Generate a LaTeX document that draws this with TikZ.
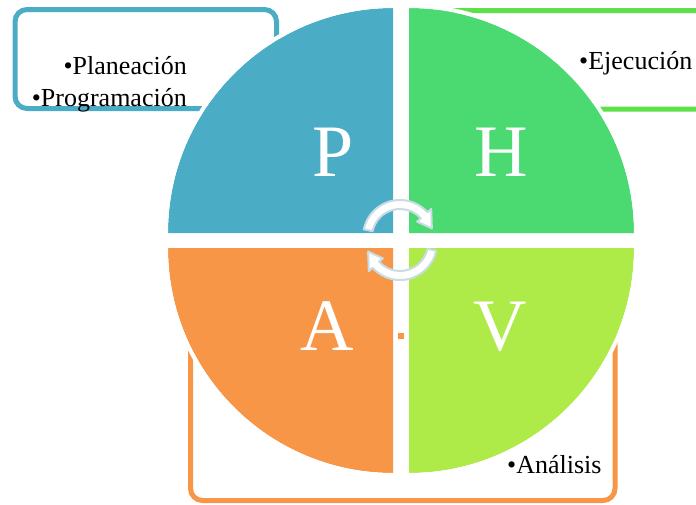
\documentclass[tikz,border=0pt]{standalone}
\usepackage{fontspec}
\setmainfont{Liberation Serif}
\definecolor{qblue}{HTML}{4BACC6}
\definecolor{qgreen}{HTML}{4BD972}
\definecolor{lgreen}{HTML}{5EE04A}
\definecolor{qlime}{HTML}{AEEA48}
\definecolor{qorange}{HTML}{F79646}
\definecolor{arrowline}{HTML}{C9DCE5}
\tikzset{
  listbox/.style={rounded corners=12pt, line width=5pt},
  quadrim/.style={white, line width=4pt},
  bigletter/.style={white, inner sep=0pt, anchor=base, font=\fontsize{74}{80}\selectfont},
  listtext/.style={black, inner sep=0pt, font=\fontsize{26}{30}\selectfont},
  cyclearrow/.style={fill=white, draw=arrowline, line width=2pt, line join=round}
}
\begin{document}
\begin{tikzpicture}[x=1pt,y=1pt]
\useasboundingbox (0,0) rectangle (696,-504);
\clip (0,0) rectangle (696,-504);

% text frames behind the quadrants
\draw[listbox, qblue] (15,-9.5) rectangle (276.5,-108.5);
\draw[listbox, lgreen] (430,-10.5) rectangle (730,-109);
\draw[listbox, qorange] (190.5,-300) rectangle (615,-500.5);

% white separating cross between the quadrants
\fill[white] (393,-5) rectangle (409,-476);
\fill[white] (165,-233) rectangle (637,-248);

% four quarter discs
\coordinate (ctl) at (393,-233);
\coordinate (ctr) at (409,-233);
\coordinate (cbl) at (393,-248);
\coordinate (cbr) at (409,-248);
\fill[qblue] (ctl) -- ++(-225,0) arc[start angle=180, end angle=90, radius=225] -- cycle;
\fill[qgreen] (ctr) -- ++(0,225) arc[start angle=90, end angle=0, radius=225] -- cycle;
\fill[qorange] (cbl) -- ++(-225,0) arc[start angle=180, end angle=270, radius=225] -- cycle;
\fill[qlime] (cbr) -- ++(225,0) arc[start angle=0, end angle=-90, radius=225] -- cycle;
\draw[quadrim] ([shift={(180:227)}]ctl) arc[start angle=180, end angle=90, radius=227];
\draw[quadrim] ([shift={(90:227)}]ctr) arc[start angle=90, end angle=0, radius=227];
\draw[quadrim] ([shift={(180:227)}]cbl) arc[start angle=180, end angle=270, radius=227];
\draw[quadrim] ([shift={(0:227)}]cbr) arc[start angle=0, end angle=-90, radius=227];

% quadrant letters
\node[bigletter] (P) at (333,-176) {P};
\node[bigletter] (H) at (501,-176) {H};
\node[bigletter] (A) at (327.5,-350) {A};
\node[bigletter] (V) at (500,-350) {V};

% small mark between A and V
\fill[qorange] (398,-333) rectangle (404,-339);

% cycle arrows in the middle
\coordinate (cu) at (400,-237);
\coordinate (cd) at (400,-243);
\path[cyclearrow] ([shift={(168:37)}]cu) arc[start angle=168, end angle=42, radius=37]
  -- ([shift={(42:42)}]cu) -- ([shift={(15:33)}]cu) -- ([shift={(42:23)}]cu)
  -- ([shift={(42:28)}]cu) arc[start angle=42, end angle=168, radius=28] -- cycle;
\path[cyclearrow] ([shift={(-12:37)}]cd) arc[start angle=-12, end angle=-138, radius=37]
  -- ([shift={(-138:42)}]cd) -- ([shift={(-165:33)}]cd) -- ([shift={(-138:23)}]cd)
  -- ([shift={(-138:28)}]cd) arc[start angle=-138, end angle=-12, radius=28] -- cycle;

% list entries
\node[listtext, anchor=base east] (plan) at (187,-74) {•Planeación};
\node[listtext, anchor=base east] (prog) at (187,-106) {•Programación};
\node[listtext, anchor=base west] (ejec) at (579,-69) {•Ejecución};
\node[listtext, anchor=base west] (anal) at (507,-473) {•Análisis};
\end{tikzpicture}
\end{document}
